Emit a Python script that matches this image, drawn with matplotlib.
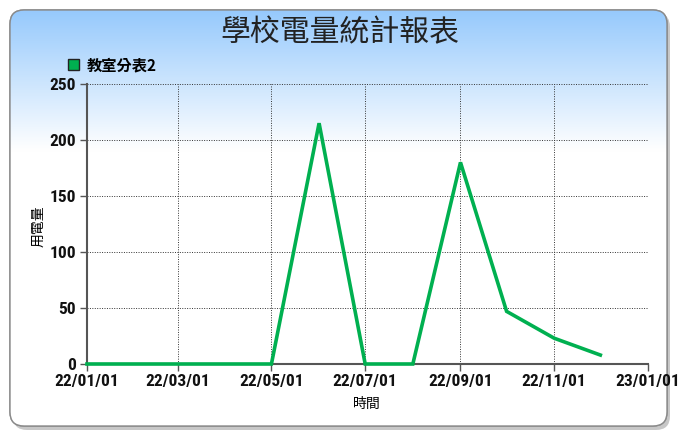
import numpy as np
import matplotlib.pyplot as plt
import matplotlib.dates as mdates
from matplotlib.patches import FancyBboxPatch
from datetime import date

# monthly readings
months = [date(2022, m, 1) for m in range(1, 13)]
usage = [0, 0, 0, 0, 0, 215, 0, 0, 180, 47, 23, 8]
series_name = "教室分表2"
title = "學校電量統計報表"

cjk = ["Noto Sans CJK TC", "DejaVu Sans"]
num_font = ["Roboto Condensed", "DejaVu Sans"]

W, H = 679, 430
fig = plt.figure(figsize=(W / 100, H / 100), dpi=100)

# background frame with gradient
bg = fig.add_axes([0, 0, 1, 1], zorder=-1)
bg.set_xlim(0, W)
bg.set_ylim(H, 0)
bg.axis("off")
shadow = FancyBboxPatch((13, 13), 657, 417, boxstyle="round,pad=0,rounding_size=14",
                        fc="#b0b0b0", ec="none", alpha=0.7)
bg.add_patch(shadow)
frame = FancyBboxPatch((10, 10), 657, 416, boxstyle="round,pad=0,rounding_size=14",
                       fc="white", ec="#8a8a8a", lw=1.0)
bg.add_patch(frame)
top_c = np.array([0.59, 0.79, 0.99])
t = np.clip((np.linspace(0, H, 200) - 10) / 140.0, 0, 1)[:, None]
grad = top_c * (1 - t) + np.ones(3) * t
img = bg.imshow(grad[:, None, :].repeat(2, axis=1), extent=(0, W, H, 0), aspect="auto", zorder=1)
img.set_clip_path(frame)
border = FancyBboxPatch((10, 10), 657, 416, boxstyle="round,pad=0,rounding_size=14",
                        fc="none", ec="#8a8a8a", lw=1.0, zorder=3)
bg.add_patch(border)

# main plot
ax = fig.add_axes([87 / W, 1 - 364 / H, (648 - 87) / W, (364 - 84) / H])
ax.patch.set_alpha(0)
ax.plot(months, usage, color="#00b050", lw=2.6, solid_joinstyle="miter", zorder=3, clip_on=False)

ax.set_xlim(date(2022, 1, 1), date(2023, 1, 1))
ax.set_ylim(0, 250)
ax.xaxis.set_major_locator(mdates.MonthLocator(bymonth=[1, 3, 5, 7, 9, 11]))
ax.xaxis.set_major_formatter(mdates.DateFormatter("%y/%m/%d"))
ax.set_yticks(range(0, 251, 50))

ax.grid(True, color="#333333", ls=(0, (1, 1.5)), lw=0.7)
for s in ["top", "right"]:
    ax.spines[s].set_visible(False)
for s in ["left", "bottom"]:
    ax.spines[s].set_color("#555555")
    ax.spines[s].set_linewidth(1.5)
ax.tick_params(axis="y", length=5, width=1, color="#555555", pad=3)
ax.tick_params(axis="x", length=5, width=1, color="#555555", pad=2)
for lab in ax.get_xticklabels() + ax.get_yticklabels():
    lab.set_family(num_font)
    lab.set_fontweight("bold")
    lab.set_fontsize(12.5)
    lab.set_color("#111111")

fig.text(38 / W, 1 - 226 / H, "用電量", family=cjk, fontsize=10, rotation=90, ha="center", va="center")
fig.text(367 / W, 1 - 404 / H, "時間", family=cjk, fontsize=10, ha="center", va="center")
fig.text(340 / W, 1 - 33 / H, title, family=cjk, fontsize=21.5, ha="center", va="center", color="#222222")

# legend marker + label
bg.add_patch(plt.Rectangle((68, 59), 11, 11, fc="#00b050", ec="#222222", lw=1.0, zorder=4))
fig.text(87 / W, 1 - 65 / H, series_name, family=cjk, fontsize=11, fontweight="bold", ha="left", va="center")

fig.savefig("out.png", dpi=100)
